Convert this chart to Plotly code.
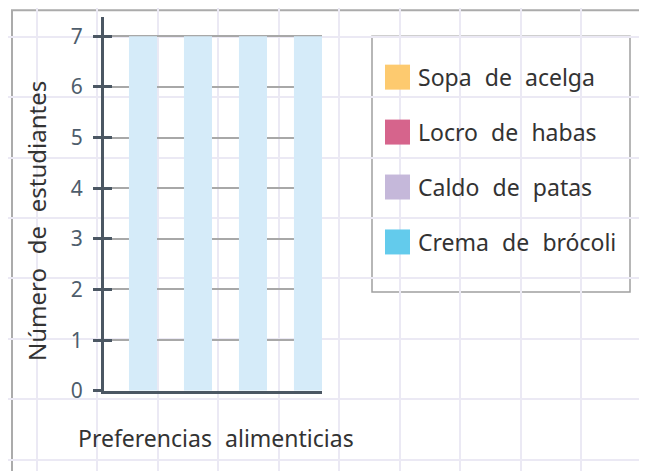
import plotly.graph_objects as go

# data
platos = ["Sopa de acelga", "Locro de habas", "Caldo de patas", "Crema de brócoli"]
estudiantes = [7, 7, 7, 7]
colores_leyenda = ["#fdca6f", "#d6648c", "#c5b8da", "#63cbec"]
y_ticks = [0, 1, 2, 3, 4, 5, 6, 7]

W, H = 647, 471      # target picture size
OFF = 8              # page body margin around the figure
VIEW_H = 483.6       # height of the captured page area (gets shrunk to H)
SY = VIEW_H / H
FIG_H = 480
FONT = "Noto Sans"
AXIS_COLOR = "#4b5763"
SP = "\u2007"        # wider word gap, as in the original


def wide(txt):
    return txt.replace(" ", SP)


fig = go.Figure()

# empty trace so the full-page "grid paper" subplot exists (picture pixel coordinates)
fig.add_trace(go.Scatter(x=[], y=[], xaxis="x", yaxis="y",
                         hoverinfo="skip", showlegend=False))

# the bars
fig.add_trace(go.Bar(x=platos, y=estudiantes, xaxis="x2", yaxis="y2",
                     marker=dict(color="#d5ebf9", line=dict(width=0)),
                     width=0.51, hoverinfo="skip", showlegend=False))

# invisible trace on the overlaying axis that draws the inner half of the ticks
fig.add_trace(go.Scatter(x=platos, y=estudiantes, xaxis="x2", yaxis="y3",
                         mode="markers", marker=dict(opacity=0),
                         hoverinfo="skip", showlegend=False))

fw, fh = W - 2 * OFF, FIG_H
plot_l, plot_r, plot_t, plot_b = 104, 322, 17, 391
xdom = [(plot_l - OFF) / fw, (plot_r - OFF) / fw]
ydom = [1 - (plot_b * SY - OFF) / fh, 1 - (plot_t * SY - OFF) / fh]

fig.update_layout(
    width=fw, height=fh,
    margin=dict(l=0, r=0, t=0, b=0),
    paper_bgcolor="white",
    plot_bgcolor="rgba(0,0,0,0)",
    showlegend=False,
    font=dict(family=FONT, color="#333333"),
    # grid paper background
    xaxis=dict(domain=[0, 1], range=[OFF, W - OFF], showgrid=True,
               gridcolor="#ebe9f4", gridwidth=1.5, tick0=36.5, dtick=60.5,
               showticklabels=False, zeroline=False, showline=False, ticks="",
               fixedrange=True),
    yaxis=dict(domain=[0, 1], range=[(fh + OFF) / SY, OFF / SY], showgrid=True,
               gridcolor="#ebe9f4", gridwidth=1.5, tick0=36.5, dtick=60.5,
               showticklabels=False, zeroline=False, showline=False, ticks="",
               fixedrange=True),
    # chart axes
    xaxis2=dict(domain=xdom, anchor="y2",
                type="category", range=[-0.709, 3.255],
                showticklabels=False, showgrid=False, zeroline=False,
                showline=True, linecolor=AXIS_COLOR, linewidth=3, ticks=""),
    yaxis2=dict(domain=ydom, anchor="x2",
                range=[0, 7.375], tickvals=y_ticks,
                showgrid=True, gridcolor="#a8a8a8", gridwidth=1.5,
                zeroline=False, showline=True, linecolor=AXIS_COLOR, linewidth=3,
                ticks="outside", ticklen=8, tickwidth=3, tickcolor=AXIS_COLOR,
                ticklabelstandoff=6,
                tickfont=dict(family=FONT, size=21, color="#4e5d6c")),
    yaxis3=dict(domain=ydom, anchor="x2",
                overlaying="y2", range=[0, 7.375], tickvals=y_ticks,
                showgrid=False, zeroline=False, showline=False,
                showticklabels=False,
                ticks="inside", ticklen=8, tickwidth=3, tickcolor=AXIS_COLOR),
)

shapes = [
    # outer frame (runs off the page on the right and bottom)
    dict(type="rect", xref="x", yref="y", x0=12, y0=10, x1=W + 20, y1=H + 20,
         line=dict(color="#ababab", width=2), layer="below"),
    # legend box
    dict(type="rect", xref="x", yref="y", x0=372, y0=36, x1=630, y1=292,
         line=dict(color="#a0a0a0", width=1.5), layer="below"),
]
annotations = [
    dict(text=wide("Preferencias alimenticias"), xref="x", yref="y", x=216, y=438,
         showarrow=False, font=dict(family=FONT, size=23, color="#333333")),
    dict(text=wide("Número de estudiantes"), xref="x", yref="y", x=37, y=221,
         textangle=-90, showarrow=False,
         font=dict(family=FONT, size=24, color="#333333")),
]

for i, (nombre, color) in enumerate(zip(platos, colores_leyenda)):
    cy = 77 + 55 * i
    shapes.append(dict(type="rect", xref="x", yref="y", x0=385, x1=410,
                       y0=cy - 12.5, y1=cy + 12.5, fillcolor=color,
                       line=dict(width=0)))
    annotations.append(dict(text=wide(nombre), xref="x", yref="y", x=416, y=cy,
                            xanchor="left", yanchor="middle", showarrow=False,
                            font=dict(family=FONT, size=23, color="#333333")))

fig.update_layout(shapes=shapes, annotations=annotations)

fig.write_html("out.html")
